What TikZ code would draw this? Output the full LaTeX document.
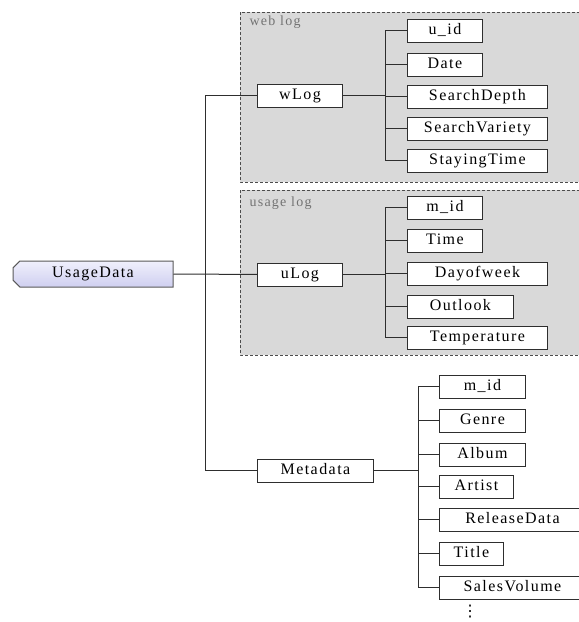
\documentclass[tikz,border=0pt]{standalone}
\usepackage{fontspec}
\setmainfont{Liberation Serif}[LetterSpace=9]
\newfontfamily\symbolfont{DejaVu Sans}
\usetikzlibrary{shapes.misc,shadows}
\definecolor{regionfill}{HTML}{D9D9D9}
\definecolor{edgegray}{HTML}{2E2E2E}
\definecolor{rootlight}{HTML}{F0F0FC}
\definecolor{rootdark}{HTML}{CFCFF0}
\begin{document}
\begin{tikzpicture}[x=1pt,y=-1pt,
  field/.style={draw=edgegray, line width=0.9pt, fill=white, anchor=north west,
    minimum height=23, inner sep=0pt, text height=0.75em, text depth=0em,
    font=\fontsize{16}{18}\selectfont,
    drop shadow={shadow xshift=1pt, shadow yshift=-1pt, fill=black!35, opacity=0.7}},
  region/.style={draw=black!70, fill=regionfill, dashed, dash pattern=on 3pt off 2pt, line width=0.9pt},
  regionlabel/.style={anchor=west, text=black!55, font=\fontsize{14}{16}\selectfont},
  link/.style={draw=edgegray, line width=1pt},
  root/.style={chamfered rectangle, chamfered rectangle corners={north west,south west},
    chamfered rectangle xsep=4pt, draw=black!65, line width=1pt,
    top color=rootlight, bottom color=rootdark, minimum width=160, minimum height=26,
    inner sep=0pt, text height=0.75em, text depth=0em, font=\fontsize{16}{18}\selectfont}]
\useasboundingbox (0,0) rectangle (579,622);
\clip (0,0) rectangle (579,622);

% dashed group regions
\draw[region] (240,12) rectangle (600,182);
\draw[region] (240,190) rectangle (600,355);
\node[regionlabel] (wlabel) at (246,22) {web log};
\node[regionlabel] (ulabel) at (246,203) {usage log};

% root
\node[root] (usage) at (93,274) {UsageData};

% second level
\node[field, minimum width=85] (wlog) at (257,84) {wLog};
\node[field, minimum width=85] (ulog) at (257,262.5) {uLog};
\node[field, minimum width=116] (meta) at (257,459) {Metadata};

% web log fields
\node[field, minimum width=75]  (wuid)   at (407,19)  {u\_id};
\node[field, minimum width=75]  (wdate)  at (407,53)  {Date};
\node[field, minimum width=140] (wdepth) at (407,85)  {SearchDepth};
\node[field, minimum width=140] (wvar)   at (407,117) {SearchVariety};
\node[field, minimum width=140] (wstay)  at (407,149) {StayingTime};

% usage log fields
\node[field, minimum width=75]  (umid)  at (407,196) {m\_id};
\node[field, minimum width=75]  (utime) at (407,229) {Time};
\node[field, minimum width=140] (uday)  at (407,262) {Dayofweek};
\node[field, minimum width=106] (uout)  at (407,295) {Outlook};
\node[field, minimum width=140] (utemp) at (407,326) {Temperature};

% metadata fields
\node[field, minimum width=86]  (mmid)    at (439,375) {m\_id};
\node[field, minimum width=86]  (mgenre)  at (439,409) {Genre};
\node[field, minimum width=86]  (malbum)  at (439,443) {Album};
\node[field, minimum width=74]  (martist) at (439,475) {Artist};
\node[field, minimum width=146] (mrel)    at (439,508) {ReleaseData};
\node[field, minimum width=64]  (mtitle)  at (439,542) {Title};
\node[field, minimum width=146] (msales)  at (439,576) {SalesVolume};
\node[font=\symbolfont\fontsize{16}{16}\selectfont, inner sep=0pt] (more) at (470,612) {⋮};

% trunk from the root
\coordinate (tx) at (205,0);
\coordinate (wx) at (385,0);
\coordinate (ux) at (385,0);
\coordinate (mx) at (418,0);
\draw[link] (usage.east) -- (ulog.west);
\draw[link] (wlog.west) -- (wlog.west -| tx) -- (meta.west -| tx) -- (meta.west);

% web log branches
\draw[link] (wlog.east) -- (wlog.east -| wx);
\draw[link] (wuid.west -| wx) -- (wstay.west -| wx);
\foreach \c in {wuid,wdate,wdepth,wvar,wstay}
  \draw[link] (\c.west -| wx) -- (\c.west);

% usage log branches
\draw[link] (ulog.east) -- (ulog.east -| ux);
\draw[link] (umid.west -| ux) -- (utemp.west -| ux);
\foreach \c in {umid,utime,uday,uout,utemp}
  \draw[link] (\c.west -| ux) -- (\c.west);

% metadata branches
\draw[link] (meta.east) -- (meta.east -| mx);
\draw[link] (mmid.west -| mx) -- (msales.west -| mx);
\foreach \c in {mmid,mgenre,malbum,martist,mrel,mtitle,msales}
  \draw[link] (\c.west -| mx) -- (\c.west);
\end{tikzpicture}
\end{document}
